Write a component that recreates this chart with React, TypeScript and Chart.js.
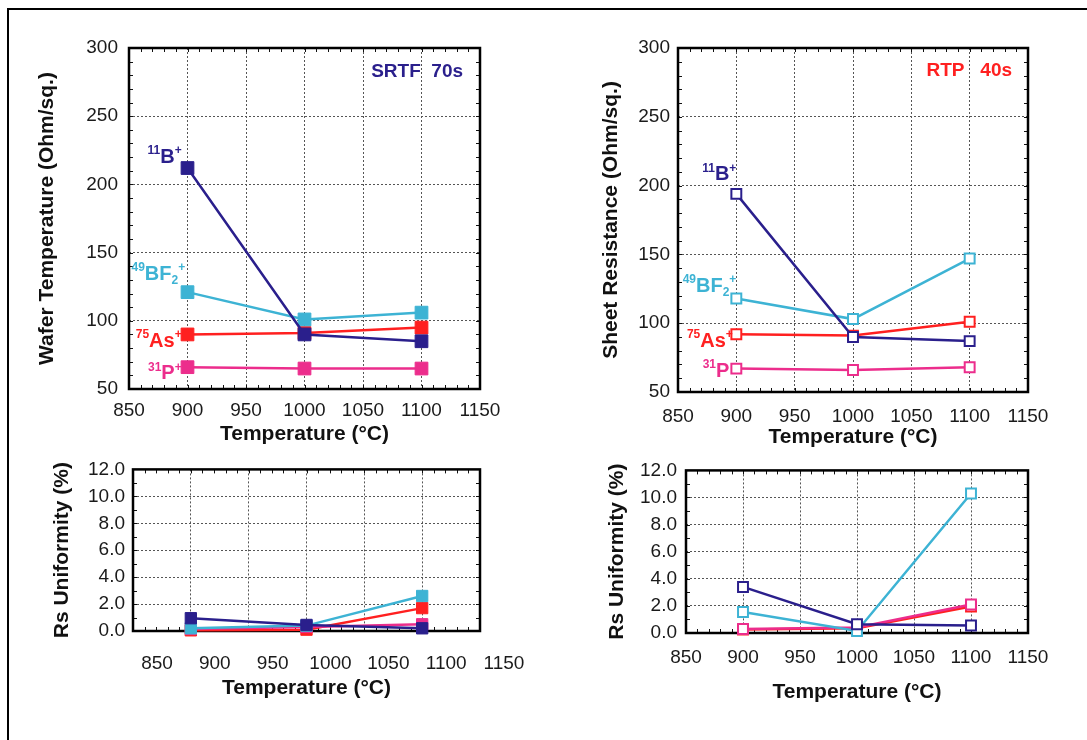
import React, { useEffect, useRef } from "react";
import { Chart, registerables } from "chart.js";
Chart.register(...registerables);

// ---------- data ----------
const temperatures = [900, 1000, 1100];

// SRTF 70s sheet resistance (Ohm/sq.)
const srtfRsB = [212, 90, 85];
const srtfRsBF2 = [121, 101, 106];
const srtfRsAs = [90, 91, 95];
const srtfRsP = [66, 65, 65];

// RTP 40s sheet resistance (Ohm/sq.)
const rtpRsB = [194, 90, 87];
const rtpRsBF2 = [118, 103, 147];
const rtpRsAs = [92, 91, 101];
const rtpRsP = [67, 66, 68];

// SRTF Rs uniformity (%)
const srtfUnB = [0.95, 0.45, 0.2];
const srtfUnBF2 = [0.2, 0.4, 2.6];
const srtfUnAs = [0.05, 0.1, 1.7];
const srtfUnP = [0.15, 0.3, 0.5];

// RTP Rs uniformity (%)
const rtpUnB = [3.4, 0.65, 0.55];
const rtpUnBF2 = [1.55, 0.15, 10.3];
const rtpUnAs = [0.25, 0.35, 1.95];
const rtpUnP = [0.3, 0.4, 2.1];

const xAxisTitle = "Temperature (\u00B0C)";

// ---------- styles ----------
const FONT = '"Liberation Sans", Arial, Helvetica, sans-serif';
const NAVY = "#2a1f8c";
const CYAN = "#3db3d4";
const RED = "#ff2020";
const PINK = "#ec2d8c";

type Seg = [string, "n" | "sup" | "sub"];
type Ann = { segs: Seg[]; x: number; y: number; align: "left" | "right"; color: string; size: number };

function drawRich(ctx: CanvasRenderingContext2D, a: Ann, px: number, py: number) {
  const bigF = `bold ${a.size}px ${FONT}`;
  const smallF = `bold ${Math.round(a.size * 0.62)}px ${FONT}`;
  const widths = a.segs.map(([t, k]) => {
    ctx.font = k === "n" ? bigF : smallF;
    return ctx.measureText(t).width;
  });
  const total = widths.reduce((s, w) => s + w, 0);
  let cx = a.align === "right" ? px - total : px;
  ctx.fillStyle = a.color;
  ctx.textBaseline = "alphabetic";
  ctx.textAlign = "left";
  a.segs.forEach(([t, k], i) => {
    ctx.font = k === "n" ? bigF : smallF;
    const dy = k === "sup" ? -a.size * 0.42 : k === "sub" ? a.size * 0.2 : 0;
    ctx.fillText(t, cx, py + dy);
    cx += widths[i];
  });
}

const decorPlugin = {
  id: "decor",
  beforeDatasetsDraw(chart: any, _args: any, opts: any) {
    const { ctx, chartArea: a, scales } = chart;
    ctx.save();
    // minor ticks
    ctx.strokeStyle = "#111";
    ctx.lineWidth = 1;
    const ys = scales.y;
    const xs = scales.x;
    const L = 4;
    ctx.beginPath();
    for (let v = ys.min; v <= ys.max + 1e-9; v += opts.yMinor) {
      const p = Math.round(ys.getPixelForValue(v)) + 0.5;
      ctx.moveTo(a.left, p); ctx.lineTo(a.left + L, p);
      ctx.moveTo(a.right, p); ctx.lineTo(a.right - L, p);
    }
    for (let v = xs.min; v <= xs.max + 1e-9; v += opts.xMinor) {
      const p = Math.round(xs.getPixelForValue(v)) + 0.5;
      ctx.moveTo(p, a.top); ctx.lineTo(p, a.top + L);
      ctx.moveTo(p, a.bottom); ctx.lineTo(p, a.bottom - L);
    }
    ctx.stroke();
    // box
    ctx.strokeStyle = "#000";
    ctx.lineWidth = 2.5;
    ctx.strokeRect(a.left, a.top, a.right - a.left, a.bottom - a.top);
    ctx.restore();
  },
  afterDatasetsDraw(chart: any, _args: any, opts: any) {
    const { ctx, scales } = chart;
    ctx.save();
    (opts.labels || []).forEach((an: Ann) => {
      drawRich(ctx, an, scales.x.getPixelForValue(an.x), scales.y.getPixelForValue(an.y));
    });
    ctx.restore();
  },
};

type SeriesSpec = { name: string; values: number[]; color: string };

type PanelSpec = {
  left: number; top: number; width: number; height: number;
  pad: { left: number; right: number; top: number; bottom: number };
  yWidth: number; xHeight: number;
  yMin: number; yMax: number; yStep: number; yDecimals: number; yTitle: string;
  yTickPad: number; xTickPad: number; xLabelOffset: number; xTitlePadBottom: number; yTitlePadTop: number;
  yMinor: number;
  filled: boolean; pointRadius: number;
  series: SeriesSpec[];
  labels: Ann[];
};

function buildConfig(spec: PanelSpec): any {
  return {
    type: "line",
    data: {
      datasets: spec.series.map((s) => ({
        label: s.name,
        data: temperatures.map((t, i) => ({ x: t, y: s.values[i] })),
        borderColor: s.color,
        backgroundColor: spec.filled ? s.color : "#ffffff",
        pointBackgroundColor: spec.filled ? s.color : "#ffffff",
        pointBorderColor: s.color,
        pointStyle: "rect",
        pointRadius: spec.pointRadius,
        pointBorderWidth: spec.filled ? 1 : 2,
        borderWidth: 2.5,
        tension: 0,
        clip: false,
        fill: false,
      })),
    },
    options: {
      responsive: false,
      animation: false,
      events: [],
      layout: { padding: spec.pad },
      plugins: {
        legend: { display: false },
        tooltip: { enabled: false },
        decor: { labels: spec.labels, yMinor: spec.yMinor, xMinor: 10 },
      },
      scales: {
        x: {
          type: "linear",
          min: 850,
          max: 1150,
          afterFit: (s: any) => { s.height = spec.xHeight; },
          ticks: {
            stepSize: 50,
            padding: spec.xTickPad,
            labelOffset: spec.xLabelOffset,
            maxRotation: 0,
            color: "#1a1a1a",
            font: { family: FONT, size: 19 },
            callback: (v: any) => String(v),
          },
          grid: { color: "#555", lineWidth: 1, drawTicks: false },
          border: { display: false, dash: [2, 2] },
          title: {
            display: true,
            text: xAxisTitle,
            color: "#111",
            font: { family: FONT, size: 21, weight: "bold" },
            padding: { top: 0, bottom: spec.xTitlePadBottom },
          },
        },
        y: {
          type: "linear",
          min: spec.yMin,
          max: spec.yMax,
          afterFit: (s: any) => { s.width = spec.yWidth; },
          ticks: {
            stepSize: spec.yStep,
            padding: spec.yTickPad,
            color: "#1a1a1a",
            font: { family: FONT, size: 19 },
            callback: (v: any) => Number(v).toFixed(spec.yDecimals),
          },
          grid: { color: "#555", lineWidth: 1, drawTicks: false },
          border: { display: false, dash: [2, 2] },
          title: {
            display: true,
            text: spec.yTitle,
            color: "#111",
            font: { family: FONT, size: 21, weight: "bold" },
            padding: { top: spec.yTitlePadTop, bottom: 0 },
          },
        },
      },
    },
    plugins: [decorPlugin],
  };
}

const ionLabel = (kind: string): Seg[] => {
  if (kind === "B") return [["11", "sup"], ["B", "n"], ["+", "sup"]];
  if (kind === "BF2") return [["49", "sup"], ["BF", "n"], ["2", "sub"], ["+", "sup"]];
  if (kind === "As") return [["75", "sup"], ["As", "n"], ["+", "sup"]];
  if (kind === "P") return [["31", "sup"], ["P", "n"], ["+", "sup"]];
  return [["31", "sup"], ["P", "n"]];
};

const panels: PanelSpec[] = [
  {
    left: 0, top: 0, width: 540, height: 450,
    pad: { left: 29, right: 60, top: 48, bottom: 0 },
    yWidth: 100, xHeight: 61,
    yMin: 50, yMax: 300, yStep: 50, yDecimals: 0, yTitle: "Wafer Temperature (Ohm/sq.)",
    yTickPad: 11, xTickPad: 10, xLabelOffset: 0, xTitlePadBottom: 3, yTitlePadTop: 6,
    yMinor: 10, filled: true, pointRadius: 9,
    series: [
      { name: "11B+", values: srtfRsB, color: NAVY },
      { name: "49BF2+", values: srtfRsBF2, color: CYAN },
      { name: "75As+", values: srtfRsAs, color: RED },
      { name: "31P+", values: srtfRsP, color: PINK },
    ],
    labels: [
      { segs: ionLabel("B"), x: 895, y: 216, align: "right", color: NAVY, size: 20 },
      { segs: ionLabel("BF2"), x: 898, y: 130, align: "right", color: CYAN, size: 20 },
      { segs: ionLabel("As"), x: 895, y: 81, align: "right", color: RED, size: 20 },
      { segs: ionLabel("P"), x: 895, y: 57, align: "right", color: PINK, size: 20 },
      { segs: [["SRTF  70s", "n"]], x: 1057, y: 279, align: "left", color: NAVY, size: 19 },
    ],
  },
  {
    left: 540, top: 0, width: 547, height: 450,
    pad: { left: 53, right: 59, top: 48, bottom: 0 },
    yWidth: 85, xHeight: 58,
    yMin: 50, yMax: 300, yStep: 50, yDecimals: 0, yTitle: "Sheet Resistance (Ohm/sq.)",
    yTickPad: 8, xTickPad: 13, xLabelOffset: 0, xTitlePadBottom: 0, yTitlePadTop: 6,
    yMinor: 10, filled: false, pointRadius: 7,
    series: [
      { name: "11B+", values: rtpRsB, color: NAVY },
      { name: "49BF2+", values: rtpRsBF2, color: CYAN },
      { name: "75As+", values: rtpRsAs, color: RED },
      { name: "31P", values: rtpRsP, color: PINK },
    ],
    labels: [
      { segs: ionLabel("B"), x: 900, y: 204, align: "right", color: NAVY, size: 20 },
      { segs: ionLabel("BF2"), x: 900, y: 123, align: "right", color: CYAN, size: 20 },
      { segs: ionLabel("As"), x: 897, y: 83, align: "right", color: RED, size: 20 },
      { segs: ionLabel("P0"), x: 894, y: 61, align: "right", color: PINK, size: 20 },
      { segs: [["RTP   40s", "n"]], x: 1063, y: 280, align: "left", color: RED, size: 19 },
    ],
  },
  {
    left: 0, top: 450, width: 540, height: 290,
    pad: { left: 44, right: 60, top: 16, bottom: 0 },
    yWidth: 89, xHeight: 109,
    yMin: 0, yMax: 12, yStep: 2, yDecimals: 1, yTitle: "Rs Uniformity (%)",
    yTickPad: 8, xTickPad: 21, xLabelOffset: 24, xTitlePadBottom: 39, yTitlePadTop: 6,
    yMinor: 1, filled: true, pointRadius: 8,
    series: [
      { name: "11B+", values: srtfUnB, color: NAVY },
      { name: "49BF2+", values: srtfUnBF2, color: CYAN },
      { name: "31P+", values: srtfUnP, color: PINK },
      { name: "75As+", values: srtfUnAs, color: RED },
    ],
    labels: [],
  },
  {
    left: 540, top: 450, width: 547, height: 290,
    pad: { left: 59, right: 59, top: 19, bottom: 0 },
    yWidth: 87, xHeight: 107,
    yMin: 0, yMax: 12, yStep: 2, yDecimals: 1, yTitle: "Rs Uniformity (%)",
    yTickPad: 9, xTickPad: 13, xLabelOffset: 0, xTitlePadBottom: 35, yTitlePadTop: 6,
    yMinor: 1, filled: false, pointRadius: 7,
    series: [
      { name: "11B+", values: rtpUnB, color: NAVY },
      { name: "49BF2+", values: rtpUnBF2, color: CYAN },
      { name: "31P+", values: rtpUnP, color: PINK },
      { name: "75As+", values: rtpUnAs, color: RED },
    ],
    labels: [],
  },
];

function Panel({ spec }: { spec: PanelSpec }) {
  const ref = useRef<HTMLCanvasElement | null>(null);
  useEffect(() => {
    if (!ref.current) return;
    const chart = new Chart(ref.current, buildConfig(spec));
    return () => chart.destroy();
  }, [spec]);
  return (
    <canvas
      ref={ref}
      width={spec.width}
      height={spec.height}
      style={{ position: "absolute", left: spec.left, top: spec.top, width: spec.width, height: spec.height }}
    />
  );
}

export default function App() {
  return (
    <div
      style={{
        position: "absolute",
        left: 0,
        top: 0,
        width: 1087,
        height: 740,
        overflow: "hidden",
        background: "#ffffff",
      }}
    >
      <div
        style={{
          position: "absolute",
          left: 7,
          top: 8,
          width: 1200,
          height: 800,
          borderTop: "2px solid #000",
          borderLeft: "2px solid #000",
        }}
      />
      {panels.map((p, i) => (
        <Panel key={i} spec={p} />
      ))}
    </div>
  );
}
